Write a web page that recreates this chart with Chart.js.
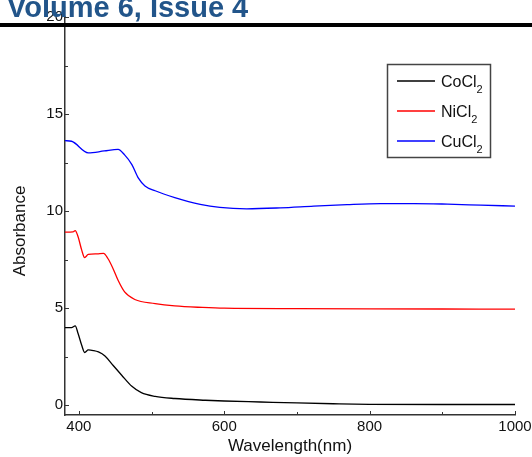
<!DOCTYPE html>
<html>
<head>
<meta charset="utf-8">
<script src="https://cdn.jsdelivr.net/npm/chart.js@4"></script>
<style>
  body { margin: 0; background: #fff; }
  #wrap { position: relative; width: 532px; height: 457px; overflow: hidden; }
  #head { position: absolute; left: 7px; top: -7px; font: bold 29px "Liberation Sans", Arial, sans-serif;
          line-height: 29px; color: #22558a; white-space: nowrap; }
  #rule { position: absolute; left: 0; top: 23px; width: 532px; height: 4px; background: #000; }
  canvas { position: absolute; left: 0; top: 0; }
</style>
</head>
<body>
<div id="wrap">
  <canvas id="spectra" width="532" height="457"></canvas>
  <div id="head">Volume 6, Issue 4</div>
  <div id="rule"></div>
</div>
<script>
/* eslint-disable no-undef */
const labels = ['CoCl2', 'NiCl2', 'CuCl2'];
const colors = ['#000000', '#ff0000', '#0000ff'];

const coWl = [381, 390, 395, 399, 404, 408, 413, 420, 427, 436, 447, 459, 473, 486, 505, 532, 574, 600, 650, 700, 750, 800, 900, 1000];
const coAbs = [4.0, 4.0, 4.09, 3.7, 3.09, 2.72, 2.85, 2.82, 2.75, 2.54, 2.06, 1.55, 0.98, 0.65, 0.46, 0.35, 0.26, 0.22, 0.17, 0.12, 0.08, 0.05, 0.04, 0.04];

const niWl = [381, 392, 395, 399, 404, 408, 413, 425, 434, 440, 447, 454, 463, 477, 505, 532, 570, 600, 700, 800, 900, 1000];
const niAbs = [8.92, 8.93, 9.0, 8.68, 7.99, 7.61, 7.77, 7.8, 7.82, 7.56, 7.05, 6.44, 5.84, 5.45, 5.24, 5.12, 5.04, 5.0, 4.98, 4.97, 4.96, 4.95];

const cuWl = [381, 390, 413, 435, 454, 463, 473, 482, 491, 505, 532, 567, 594, 631, 677, 723, 769, 815, 861, 907, 953, 1000];
const cuAbs = [13.63, 13.6, 13.0, 13.1, 13.18, 12.9, 12.4, 11.7, 11.3, 11.05, 10.7, 10.35, 10.19, 10.12, 10.17, 10.26, 10.34, 10.39, 10.39, 10.36, 10.31, 10.26];

const xTicks = [400, 600, 800, 1000];
const xMinor = [500, 700, 900];
const yTicks = [0, 5, 10, 15, 20];
const yMinor = [2.5, 7.5, 12.5, 17.5];

const FONT = '"Liberation Sans", Arial, sans-serif';
const pts = (xs, ys) => xs.map((x, i) => ({ x: x, y: ys[i] }));

// ticks drawn on the inside of the axes
const innerTicks = {
  id: 'innerTicks',
  afterDatasetsDraw(chart) {
    const { ctx, scales: { x, y } } = chart;
    ctx.save();
    ctx.strokeStyle = '#333';
    ctx.lineWidth = 1;
    ctx.beginPath();
    xTicks.concat(xMinor).forEach((v) => {
      const px = Math.round(x.getPixelForValue(v)) + 0.5;
      const len = xTicks.includes(v) ? 4 : 3;
      ctx.moveTo(px, y.bottom);
      ctx.lineTo(px, y.bottom - len);
    });
    yTicks.concat(yMinor).forEach((v) => {
      const py = Math.round(y.getPixelForValue(v)) + 0.5;
      const len = yTicks.includes(v) ? 4 : 3;
      ctx.moveTo(x.left, py);
      ctx.lineTo(x.left + len, py);
    });
    ctx.stroke();

    // y axis title
    ctx.translate(20, 231);
    ctx.rotate(-Math.PI / 2);
    ctx.fillStyle = '#111';
    ctx.font = '17px ' + FONT;
    ctx.textAlign = 'center';
    ctx.textBaseline = 'middle';
    ctx.fillText('Absorbance', 0, 0);
    ctx.restore();
  },
};

// boxed legend with subscripted digits
const boxLegend = {
  id: 'boxLegend',
  afterDraw(chart) {
    const { ctx } = chart;
    ctx.save();
    ctx.strokeStyle = '#444';
    ctx.lineWidth = 1.5;
    ctx.strokeRect(387.5, 64.5, 103, 93);
    labels.forEach((lab, i) => {
      const ry = 81 + i * 30;
      ctx.strokeStyle = colors[i];
      ctx.lineWidth = 1.5;
      ctx.beginPath();
      ctx.moveTo(397, ry);
      ctx.lineTo(435, ry);
      ctx.stroke();
      const m = lab.match(/^(\D+)(\d*)$/);
      ctx.fillStyle = '#111';
      ctx.textBaseline = 'alphabetic';
      ctx.font = '16px ' + FONT;
      ctx.fillText(m[1], 441, ry + 6);
      const w = ctx.measureText(m[1]).width;
      ctx.font = '11px ' + FONT;
      ctx.fillText(m[2], 441 + w, ry + 12);
    });
    ctx.restore();
  },
};

new Chart(document.getElementById('spectra'), {
  type: 'line',
  data: {
    datasets: [
      { label: labels[0], data: pts(coWl, coAbs), borderColor: colors[0] },
      { label: labels[1], data: pts(niWl, niAbs), borderColor: colors[1] },
      { label: labels[2], data: pts(cuWl, cuAbs), borderColor: colors[2] },
    ],
  },
  options: {
    responsive: false,
    animation: false,
    layout: { padding: { left: 0, right: 17, top: 17, bottom: 0 } },
    elements: {
      point: { radius: 0 },
      line: { borderWidth: 1.3, cubicInterpolationMode: 'monotone', fill: false },
    },
    plugins: { legend: { display: false }, tooltip: { enabled: false } },
    scales: {
      x: {
        type: 'linear',
        min: 381,
        max: 1000,
        afterBuildTicks: (s) => { s.ticks = xTicks.map((v) => ({ value: v })); },
        afterFit: (s) => { s.height = 42; s.paddingRight = 0; s.paddingLeft = 0; },
        grid: { display: false, drawTicks: false },
        border: { color: '#333', width: 1.5 },
        ticks: { font: { size: 15, family: FONT }, color: '#111', padding: 3, maxRotation: 0, autoSkip: false,
          callback: (v) => String(v) },
        title: { display: true, text: 'Wavelength(nm)', font: { size: 17, family: FONT }, color: '#111', padding: { top: 0, bottom: 0 } },
      },
      y: {
        min: -0.5,
        max: 20,
        afterBuildTicks: (s) => { s.ticks = yTicks.map((v) => ({ value: v })); },
        afterFit: (s) => { s.width = 65; s.paddingTop = 0; s.paddingBottom = 0; },
        grid: { display: false, drawTicks: false },
        border: { color: '#333', width: 1.5 },
        ticks: { font: { size: 15, family: FONT }, color: '#111', padding: 2, callback: (v) => String(v) },
      },
    },
  },
  plugins: [innerTicks, boxLegend],
});
</script>
</body>
</html>
